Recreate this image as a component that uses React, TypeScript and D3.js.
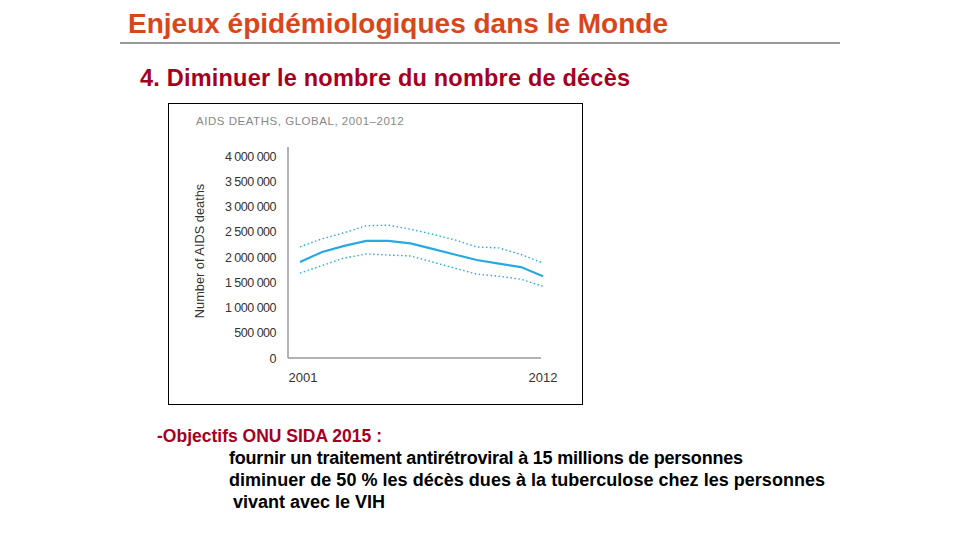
import React from 'react'
import * as d3 from 'd3'

const years = [2001, 2002, 2003, 2004, 2005, 2006, 2007, 2008, 2009, 2010, 2011, 2012]
const central = [1.9, 2.1, 2.22, 2.32, 2.32, 2.27, 2.16, 2.05, 1.94, 1.87, 1.8, 1.62].map(v => v * 1e6)
const upper = [2.2, 2.36, 2.48, 2.62, 2.63, 2.55, 2.45, 2.34, 2.2, 2.18, 2.05, 1.88].map(v => v * 1e6)
const lower = [1.68, 1.83, 1.98, 2.06, 2.04, 2.02, 1.9, 1.78, 1.66, 1.62, 1.56, 1.42].map(v => v * 1e6)
const yTicks = [0, 500000, 1000000, 1500000, 2000000, 2500000, 3000000, 3500000, 4000000]

const fmt = (v: number) => v === 0 ? '0' : d3.format(',')(v).replace(/,/g, ' ')

export default function App() {
  const x = d3.scaleLinear().domain([2001, 2012]).range([300, 543])
  const y = d3.scaleLinear().domain([0, 4000000]).range([358, 156])
  const line = d3.line<number>().x((_, i) => x(years[i])).y(d => y(d))
  const font = 'Liberation Sans, Arial, sans-serif'
  const blue = '#29a9e1'

  return (
    <svg width={960} height={540} style={{ position: 'absolute', left: 0, top: 0, background: '#fff' }} fontFamily={font}>
      <text x={128} y={33} fontSize={28} fontWeight="bold" fill="#d9461b" textLength={540}>Enjeux épidémiologiques dans le Monde</text>
      <line x1={120} x2={840} y1={43} y2={43} stroke="#333" strokeWidth={1} />
      <text x={140} y={86} fontSize={23.5} fontWeight="bold" fill="#a50021" textLength={490}>4. Diminuer le nombre du nombre de décès</text>

      <rect x={168.5} y={103.5} width={414} height={301} fill="#fff" stroke="#000" strokeWidth={1} />
      <text x={196} y={125} fontSize={11.5} fill="#888" letterSpacing={0.3} textLength={208}>AIDS DEATHS, GLOBAL, 2001–2012</text>
      <line x1={288} x2={288} y1={147} y2={358} stroke="#999" strokeWidth={1.5} />
      <line x1={288} x2={541} y1={358} y2={358} stroke="#999" strokeWidth={1.5} />
      {yTicks.map(t => (
        <text key={t} x={276} y={y(t) + 4.5} fontSize={12.5} fill="#333" textAnchor="end" letterSpacing={-0.5}>{fmt(t)}</text>
      ))}
      <text transform="translate(204,251) rotate(-90)" fontSize={12.8} fill="#333" textAnchor="middle">Number of AIDS deaths</text>
      <text x={x(2001) + 3} y={382} fontSize={13} fill="#333" textAnchor="middle">2001</text>
      <text x={x(2012)} y={382} fontSize={13} fill="#333" textAnchor="middle">2012</text>

      <path d={line(upper) || ''} fill="none" stroke={blue} strokeWidth={1.4} strokeDasharray="1.5 2.5" />
      <path d={line(lower) || ''} fill="none" stroke={blue} strokeWidth={1.4} strokeDasharray="1.5 2.5" />
      <path d={line(central) || ''} fill="none" stroke={blue} strokeWidth={2.2} />

      <text x={157} y={442} fontSize={17.5} fontWeight="bold" fill="#a50021">-Objectifs ONU SIDA 2015 :</text>
      <text x={229} y={464} fontSize={18} fontWeight="bold" fill="#000" textLength={514}>fournir un traitement antirétroviral à 15 millions de personnes</text>
      <text x={229} y={486} fontSize={18} fontWeight="bold" fill="#000" textLength={596}>diminuer de 50 % les décès dues à la tuberculose chez les personnes</text>
      <text x={233} y={508} fontSize={18} fontWeight="bold" fill="#000">vivant avec le VIH</text>
    </svg>
  )
}
